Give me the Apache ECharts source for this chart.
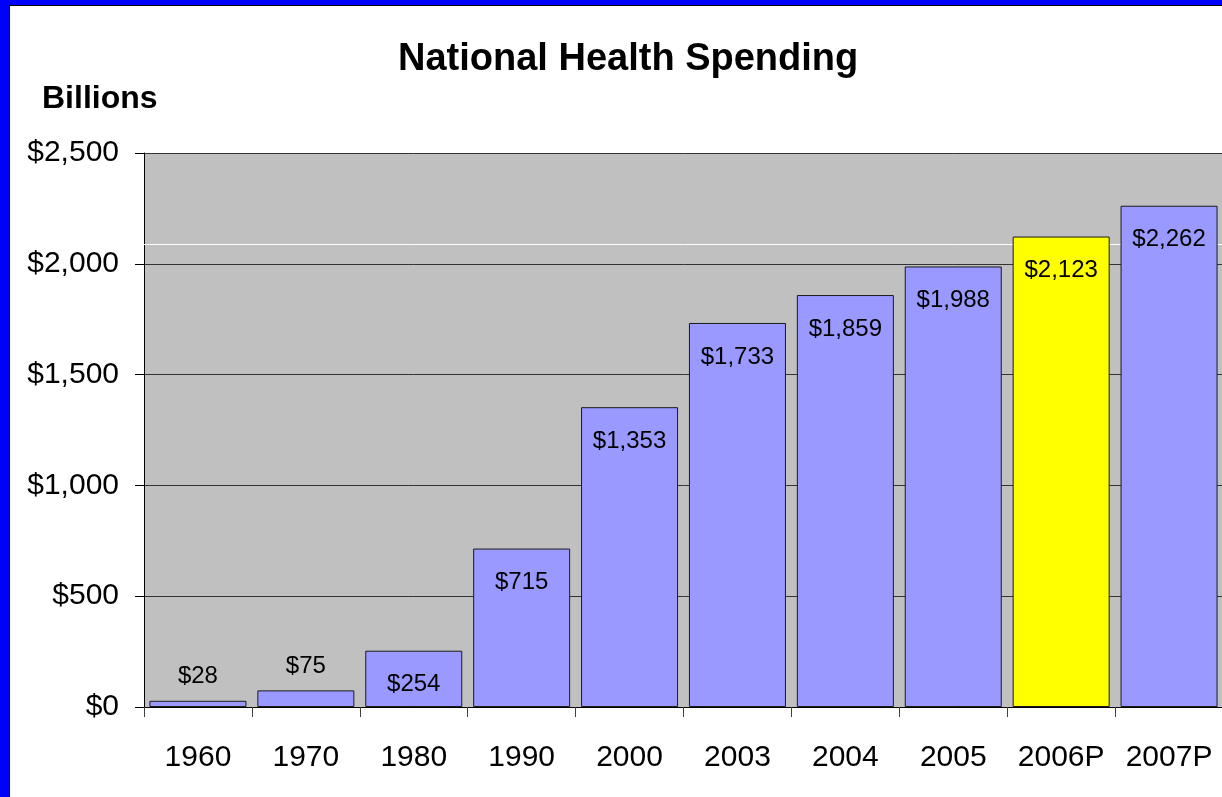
<!DOCTYPE html>
<html>
<head>
<meta charset="utf-8">
<script src="https://cdn.jsdelivr.net/npm/echarts@6/dist/echarts.min.js"></script>
<style>
  html, body { margin: 0; padding: 0; background: #0000ff; overflow: hidden; }
  #frame {
    position: absolute; left: 9px; top: 5px; width: 1213px; height: 792px;
    background: #fff; border-left: 1px solid #000; border-top: 1px solid #000;
  }
  #main { width: 1213px; height: 792px; }
</style>
</head>
<body>
<div id="frame"><div id="main"></div></div>
<script>
var categories = ['1960', '1970', '1980', '1990', '2000', '2003', '2004', '2005', '2006P', '2007P'];
var spending = [28, 75, 254, 715, 1353, 1733, 1859, 1988, 2123, 2262];
var yTicks = [0, 500, 1000, 1500, 2000, 2500];
var highlighted = '2006P';
var whiteLineValue = 2089;

function money(v) {
  return '$' + String(v).replace(/\B(?=(\d{3})+(?!\d))/g, ',');
}

var FONT = '"Liberation Sans", Arial, sans-serif';

var barData = spending.map(function (v, i) {
  var small = v < 200;
  return {
    value: v,
    itemStyle: { color: categories[i] === highlighted ? '#ffff00' : '#9999ff' },
    label: small ? { position: 'top', distance: 12 } : { position: 'insideTop', distance: 22 }
  };
});

var chart = echarts.init(document.getElementById('main'));
chart.setOption({
  animation: false,
  title: [{
    text: 'National Health Spending',
    left: 383, top: 30,
    textStyle: { fontFamily: FONT, fontSize: 38, fontWeight: 'bold', color: '#000' }
  }, {
    text: 'Billions',
    left: 27, top: 72,
    textStyle: { fontFamily: FONT, fontSize: 32, fontWeight: 'bold', color: '#000' }
  }],
  grid: {
    left: 134, top: 147, width: 1082.5, height: 554,
    show: true, backgroundColor: '#c0c0c0', borderWidth: 0
  },
  xAxis: {
    type: 'category',
    data: categories,
    axisLine: { lineStyle: { color: '#000', width: 1 } },
    axisTick: { show: true, interval: 0, length: 10, lineStyle: { color: '#404040' } },
    axisLabel: { interval: 0, fontFamily: FONT, fontSize: 30, color: '#000', margin: 36 }
  },
  yAxis: {
    type: 'value',
    min: yTicks[0], max: yTicks[yTicks.length - 1], interval: yTicks[1] - yTicks[0],
    axisLine: { show: true, lineStyle: { color: '#000' } },
    axisTick: { show: true, length: 9, lineStyle: { color: '#000' } },
    splitLine: { show: true, lineStyle: { color: '#333', width: 1 } },
    axisLabel: { fontFamily: FONT, fontSize: 30, color: '#000', margin: 25, formatter: money }
  },
  series: [{
    type: 'bar',
    z: 2,
    data: barData,
    barWidth: 97,
    itemStyle: { borderColor: '#1a1a1a', borderWidth: 1 },
    label: {
      show: true,
      fontFamily: FONT, fontSize: 24, color: '#000',
      formatter: function (p) { return money(p.value); }
    },
    markLine: {
      z: 1,
      silent: true,
      symbol: 'none',
      label: { show: false },
      lineStyle: { color: '#ffffff', width: 1, type: 'solid' },
      data: [{ yAxis: whiteLineValue }]
    }
  }]
});
</script>
</body>
</html>
